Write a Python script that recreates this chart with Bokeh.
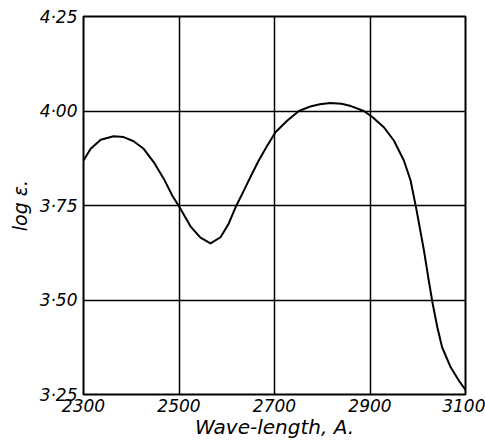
from bokeh.plotting import figure
from bokeh.models import FixedTicker, Range1d
from bokeh.embed import file_html
from bokeh.resources import INLINE

# Data
wavelength = [2300, 2315, 2336, 2363, 2384, 2405, 2426, 2447, 2468, 2486, 2500,
              2524, 2545, 2566, 2587, 2604, 2618, 2636, 2653, 2667, 2685, 2702,
              2727, 2751, 2775, 2795, 2817, 2840, 2860, 2887, 2905, 2929, 2950,
              2971, 2985, 2997, 3013, 3023, 3031, 3041, 3051, 3069, 3086, 3100]
log_eps = [3.869, 3.900, 3.924, 3.933, 3.931, 3.920, 3.900, 3.865, 3.821, 3.776, 3.748,
           3.695, 3.665, 3.650, 3.666, 3.702, 3.744, 3.790, 3.834, 3.869, 3.909, 3.944,
           3.975, 4.000, 4.012, 4.018, 4.021, 4.019, 4.013, 4.000, 3.984, 3.957, 3.922,
           3.869, 3.816, 3.741, 3.631, 3.552, 3.492, 3.428, 3.375, 3.322, 3.287, 3.262]

x_ticks = [2300, 2500, 2700, 2900, 3100]
y_ticks = [3.25, 3.50, 3.75, 4.00, 4.25]
y_tick_labels = ["3·25", "3·50", "3·75", "4·00", "4·25"]

p = figure(width=485, height=441, output_backend="svg", toolbar_location=None,
           x_range=Range1d(2300, 3100), y_range=Range1d(3.25, 4.25),
           min_border_left=83, min_border_top=16, min_border_right=20, min_border_bottom=47)

p.line(wavelength, log_eps, line_color="black", line_width=2)

p.outline_line_color = "black"
p.outline_line_width = 2
p.background_fill_color = "white"
p.border_fill_color = "white"

FONT = "DejaVu Sans"
for ax in (p.xaxis[0], p.yaxis[0]):
    ax.axis_line_color = None
    ax.major_tick_line_color = None
    ax.minor_tick_line_color = None
    ax.major_tick_out = 0
    ax.major_tick_in = 0
    ax.minor_tick_out = 0
    ax.minor_tick_in = 0
    ax.major_label_text_font = FONT
    ax.major_label_text_font_style = "italic"
    ax.major_label_text_font_size = "17px"
    ax.major_label_text_color = "black"
    ax.axis_label_text_font = FONT
    ax.axis_label_text_font_style = "italic"
    ax.axis_label_text_color = "black"

p.xaxis.ticker = FixedTicker(ticks=x_ticks)
p.yaxis.ticker = FixedTicker(ticks=y_ticks)
p.yaxis.major_label_overrides = {t: l for t, l in zip(y_ticks, y_tick_labels)}

p.xaxis.axis_label = "Wave-length, A."
p.xaxis.axis_label_text_font_size = "20px"
p.xaxis.axis_label_standoff = 0
p.xaxis.major_label_standoff = 4

p.yaxis.axis_label = "log ε."
p.yaxis.axis_label_text_font_size = "19px"
p.yaxis.axis_label_standoff = 6
p.yaxis.major_label_standoff = 6

p.grid.grid_line_color = "black"
p.grid.grid_line_width = 1.5
p.grid.grid_line_alpha = 1.0

open("out.html", "w").write(file_html(p, INLINE))
